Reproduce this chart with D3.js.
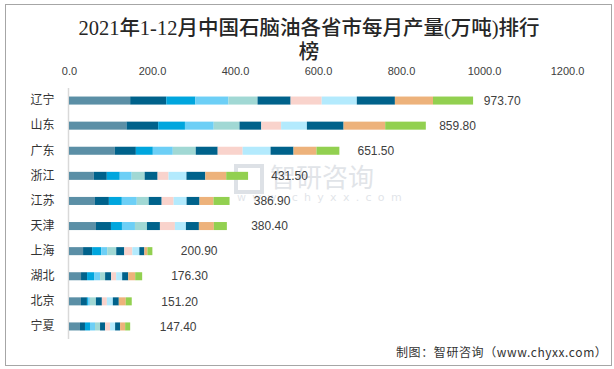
<!DOCTYPE html>
<html><head><meta charset="utf-8">
<script src="https://cdn.jsdelivr.net/npm/d3@7/dist/d3.min.js"></script>
<style>body{margin:0;background:#fff}svg{display:block}</style>
</head><body>
<svg id="c" width="614" height="369"></svg>
<script>
const provinces = ["辽宁","山东","广东","浙江","江苏","天津","上海","湖北","北京","宁夏"];
const months = ["1-2月","3月","4月","5月","6月","7月","8月","9月","10月","11月","12月"];
const totals = [973.70, 859.80, 651.50, 431.50, 386.90, 380.40, 200.90, 176.30, 151.20, 147.40];
const m1_2 = [147.4,138.5,110.6,59.9,62.5,65.0,33.9,29.0,28.8,26.4];
const m3  = [87.0,76.4,50.5,31.2,33.6,36.1,21.8,14.5,14.4,12.1];
const m4  = [70.1,64.5,40.9,31.2,31.2,26.5,21.8,16.9,2.4,12.1];
const m5  = [79.7,69.3,48.1,28.8,36.0,31.3,14.5,14.5,4.8,12.1];
const m6  = [70.1,62.1,55.3,31.2,28.8,28.9,21.8,12.1,14.4,12.1];
const m7  = [79.7,52.5,52.9,31.2,31.2,31.3,19.4,14.5,14.4,12.1];
const m8  = [74.9,47.8,60.1,26.4,28.8,36.1,19.4,12.1,12.0,12.1];
const m9  = [84.6,62.1,67.3,43.1,31.2,26.5,16.9,14.5,14.4,12.1];
const m10 = [91.8,88.4,55.3,45.5,31.2,31.3,12.1,14.5,14.4,12.1];
const m11 = [91.8,100.3,55.3,50.3,33.6,36.1,7.3,16.9,16.8,12.1];
const m12 = [96.6,97.9,55.2,52.7,38.8,31.3,12.0,16.8,14.4,12.1];
const seriesValues = [m1_2,m3,m4,m5,m6,m7,m8,m9,m10,m11,m12];
const tickValues = [0,200,400,600,800,1000,1200];
const colors = ["#5B8FA6","#00628B","#00A6DE","#6DCFF6","#A1D8D4","#00628B","#F9D3CC","#B3EAFD","#00628B","#EDB27B","#92D050"];

const rows = provinces.map((p,i)=>{const o={prov:p,total:totals[i]};months.forEach((m,j)=>o[m]=seriesValues[j][i]);return o;});

const svg = d3.select("#c");
svg.append("rect").attr("x",5.5).attr("y",4.5).attr("width",606).attr("height",361)
  .attr("fill","#fff").attr("stroke","#a6a6a6").attr("stroke-width",1);

// title
const title = svg.append("text").attr("text-anchor","middle").attr("fill","#262626")
  .style("font-family","'Liberation Serif','Noto Sans CJK SC',serif").style("font-size","20.5px").style("font-weight","500");
title.append("tspan").attr("x",309).attr("y",35).text("2021年1-12月中国石脑油各省市每月产量(万吨)排行");
title.append("tspan").attr("x",309).attr("y",59).text("榜");

const x = d3.scaleLinear().domain([0,1200]).range([69,567]);
const y = d3.scaleBand().domain(provinces).range([88,339]).paddingInner(0.68).paddingOuter(0.34);

// watermark
const wm = svg.append("g").attr("opacity",0.25).attr("fill","#8a96a8");
wm.append("rect").attr("x",236).attr("y",166).attr("width",26).attr("height",26).attr("fill","none").attr("stroke","#7d8aa0").attr("stroke-width",4);
wm.append("text").attr("x",270).attr("y",187).style("font-family","'Noto Sans CJK SC'").style("font-size","26px").text("智研咨询");
wm.append("text").attr("x",237).attr("y",201).style("font-family","'DejaVu Sans'").style("font-size","11px").attr("letter-spacing","6.3px").text("www.chyxx.com");

// axis ticks
const ax = svg.append("g").attr("transform","translate(0,71)")
  .call(d3.axisTop(x).tickValues(tickValues).tickFormat(d3.format(".1f")).tickSize(0).tickPadding(0));
ax.select(".domain").remove();
ax.selectAll("text").attr("fill","#404040").attr("dy","0.35em")
  .style("font-family","'Liberation Sans',sans-serif").style("font-size","11px");

// category axis
const ay = svg.append("g").attr("transform","translate(68.5,0)")
  .call(d3.axisLeft(y).tickSize(0).tickPadding(14));
ay.select(".domain").attr("stroke","#d9d9d9").attr("stroke-width",1.5).attr("d","M0,88V339");
ay.selectAll("text").attr("fill","#333").style("font-family","'Noto Sans CJK SC',sans-serif").style("font-size","12px");

const stack = d3.stack().keys(months)(rows);
svg.append("g").selectAll("g").data(stack).join("g").attr("fill",(d,i)=>colors[i])
  .selectAll("rect").data(d=>d).join("rect")
  .attr("x",d=>x(d[0])).attr("y",d=>y(d.data.prov))
  .attr("width",d=>Math.max(0,x(d[1])-x(d[0]))).attr("height",y.bandwidth());

svg.append("g").selectAll("text").data(rows).join("text")
  .attr("x",d=>x(d.total*0.945)+33).attr("y",d=>y(d.prov)+y.bandwidth()/2).attr("dy","0.35em")
  .attr("fill","#404040").style("font-family","'Liberation Sans',sans-serif").style("font-size","12px")
  .text(d=>d3.format(".2f")(d.total));

svg.append("text").attr("x",396).attr("y",357).attr("fill","#333").attr("letter-spacing","0.6px")
  .style("font-family","'Noto Sans CJK SC',sans-serif").style("font-size","12px")
  .text("制图：智研咨询（www.chyxx.com）");
</script>
</body></html>
